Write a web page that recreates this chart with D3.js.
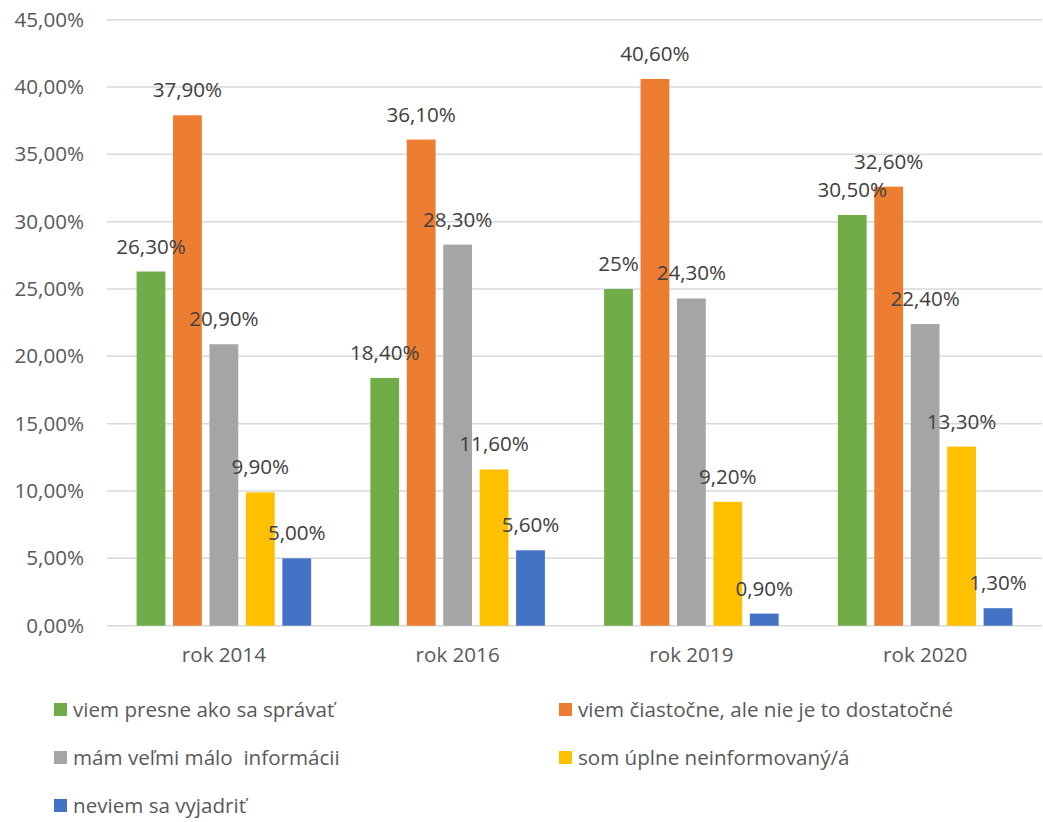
<!DOCTYPE html>
<html>
<head>
<meta charset="utf-8">
<script src="https://cdn.jsdelivr.net/npm/d3@7"></script>
<style>
  body { margin: 0; background: #fff; }
  svg { display: block; }
  text { font-family: "Open Sans", "Liberation Sans", sans-serif; white-space: pre; }
</style>
</head>
<body>
<svg id="chart" width="1043" height="822"></svg>
<script>
const categories = ["rok 2014", "rok 2016", "rok 2019", "rok 2020"];
const seriesNames = [
  "viem presne ako sa správať",
  "viem čiastočne, ale nie je to dostatočné",
  "mám veľmi málo  informácii",
  "som úplne neinformovaný/á",
  "neviem sa vyjadriť"
];
const seriesColors = ["#70AD47", "#ED7D31", "#A5A5A5", "#FFC000", "#4472C4"];
// values per series, in order of categories
const viemPresne = [26.3, 18.4, 25.0, 30.5];
const viemCiastocne = [37.9, 36.1, 40.6, 32.6];
const maloInfo = [20.9, 28.3, 24.3, 22.4];
const neinformovany = [9.9, 11.6, 9.2, 13.3];
const neviem = [5.0, 5.6, 0.9, 1.3];
const valueLabels = [
  ["26,30%", "18,40%", "25%", "30,50%"],
  ["37,90%", "36,10%", "40,60%", "32,60%"],
  ["20,90%", "28,30%", "24,30%", "22,40%"],
  ["9,90%", "11,60%", "9,20%", "13,30%"],
  ["5,00%", "5,60%", "0,90%", "1,30%"]
];
const yTicks = [0, 5, 10, 15, 20, 25, 30, 35, 40, 45];
const yTickLabels = ["0,00%", "5,00%", "10,00%", "15,00%", "20,00%", "25,00%", "30,00%", "35,00%", "40,00%", "45,00%"];

const seriesValues = [viemPresne, viemCiastocne, maloInfo, neinformovany, neviem];

const FS = 20.6;
const svg = d3.select("#chart");
const plotLeft = 107, plotRight = 1042, plotTop = 19.7, plotBottom = 625.7;

const y = d3.scaleLinear().domain([0, 45]).range([plotBottom, plotTop]);
const x0 = d3.scaleBand().domain(categories).range([plotLeft, plotRight]).padding(0);
const gap = 29.6;
const x1 = d3.scaleBand().domain(d3.range(5))
  .range([gap, x0.bandwidth() - gap]).paddingInner(0.21).paddingOuter(0);

// gridlines
svg.append("g").selectAll("line").data(yTicks).join("line")
  .attr("x1", plotLeft).attr("x2", plotRight)
  .attr("y1", d => y(d)).attr("y2", d => y(d))
  .attr("stroke", "#D9D9D9").attr("stroke-width", 1.5);

// y labels
const yAxis = d3.axisLeft(y).tickValues(yTicks).tickFormat((d, i) => yTickLabels[i]).tickSize(0).tickPadding(0);
const yg = svg.append("g").attr("transform", `translate(84,0)`).call(yAxis);
yg.select(".domain").remove();
yg.selectAll("text").attr("font-size", FS).attr("fill", "#595959")
  .attr("font-family", "'Open Sans', sans-serif");

// x labels
const xAxis = d3.axisBottom(x0).tickSize(0).tickPadding(0);
const xg = svg.append("g").attr("transform", `translate(0,${plotBottom + 22})`).call(xAxis);
xg.select(".domain").remove();
xg.selectAll("text").attr("font-size", FS).attr("fill", "#595959")
  .attr("font-family", "'Open Sans', sans-serif");

// bars
const flat = [];
categories.forEach((c, ci) => {
  seriesValues.forEach((vals, si) => {
    flat.push({ c, ci, si, v: vals[ci], label: valueLabels[si][ci] });
  });
});

svg.append("g").selectAll("rect").data(flat).join("rect")
  .attr("x", d => x0(d.c) + x1(d.si))
  .attr("y", d => y(d.v))
  .attr("width", x1.bandwidth())
  .attr("height", d => plotBottom - y(d.v))
  .attr("fill", d => seriesColors[d.si]);

svg.append("g").selectAll("text").data(flat).join("text")
  .attr("x", d => x0(d.c) + x1(d.si) + x1.bandwidth() / 2)
  .attr("y", d => y(d.v) - 18)
  .attr("text-anchor", "middle")
  .attr("font-size", FS)
  .attr("fill", "#404040")
  .text(d => d.label);

// legend
const legendPos = [
  [54, 710], [559, 710],
  [54, 758], [559, 758],
  [54, 806]
];
const lg = svg.append("g").selectAll("g").data(seriesNames).join("g")
  .attr("transform", (d, i) => `translate(${legendPos[i][0]},${legendPos[i][1]})`);
lg.append("rect").attr("x", 0).attr("y", -7).attr("width", 13).attr("height", 13)
  .attr("fill", (d, i) => seriesColors[i]);
lg.append("text").attr("x", 19).attr("y", 0).attr("dy", "0.35em")
  .attr("font-size", FS).attr("fill", "#595959").text(d => d);
</script>
</body>
</html>
